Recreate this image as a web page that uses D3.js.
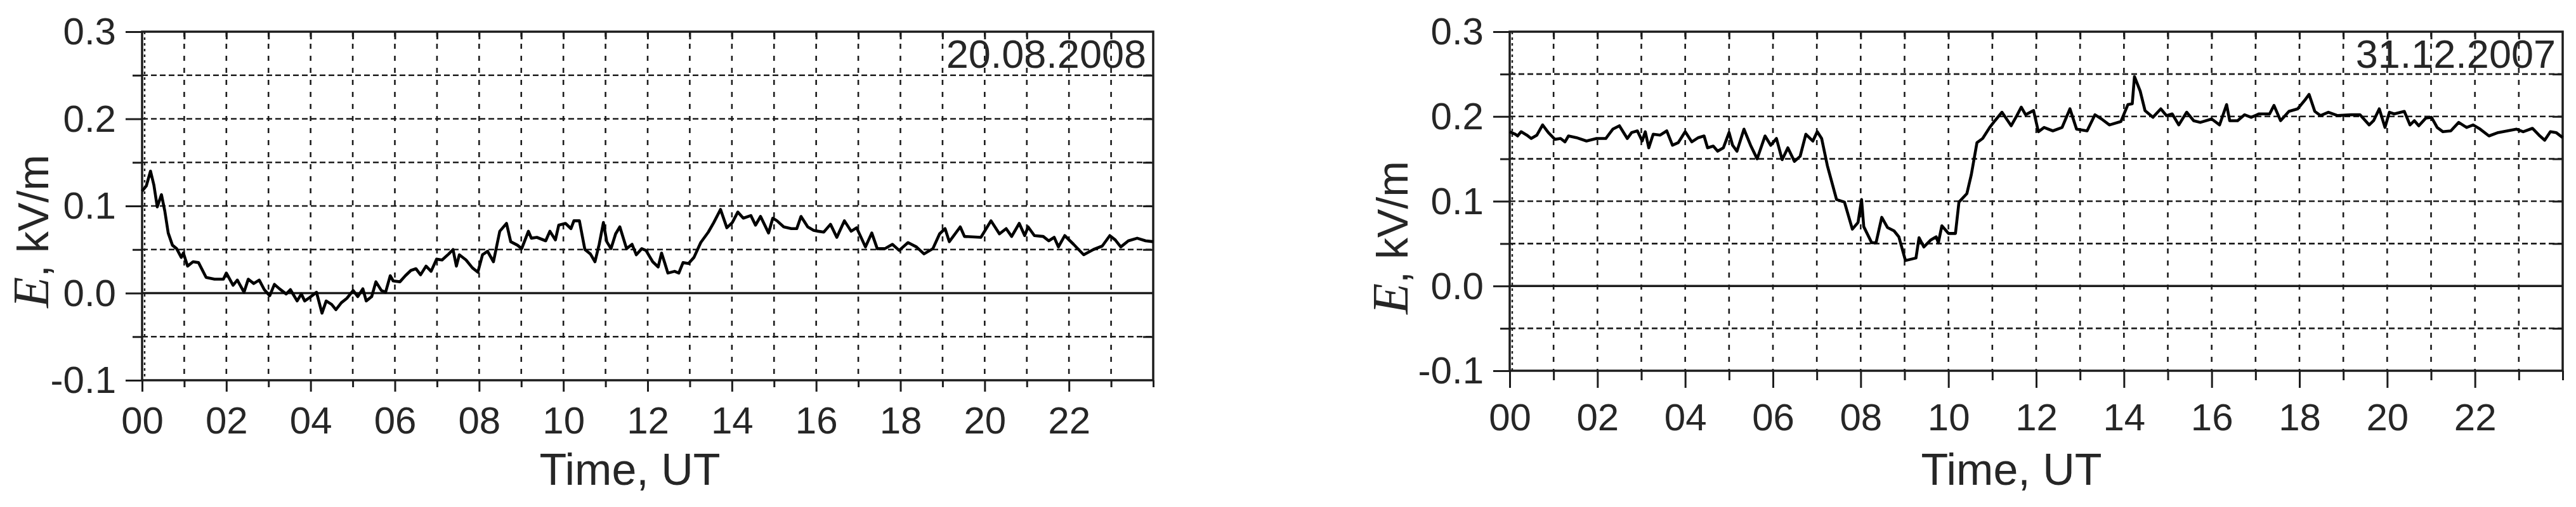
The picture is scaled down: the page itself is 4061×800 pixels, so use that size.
<!DOCTYPE html>
<html>
<head>
<meta charset="utf-8">
<script src="https://cdn.jsdelivr.net/npm/d3@7"></script>
<style>
  html, body { margin: 0; padding: 0; background: #fff; }
  svg { display: block; }
  text { font-family: "Liberation Sans", Arial, sans-serif; fill: #262626; }
</style>
</head>
<body>
<svg id="chart" width="4061" height="800"></svg>
<script>
// ---------- DATA ----------
const xTickLabels = ["00","02","04","06","08","10","12","14","16","18","20","22"];
const xMajorTicks = [0,2,4,6,8,10,12,14,16,18,20,22];
const xMinorTicks = [1,3,5,7,9,11,13,15,17,19,21,23,24];
const yTickValues = [-0.1, 0.0, 0.1, 0.2, 0.3];
const yTickLabels = ["-0.1","0.0","0.1","0.2","0.3"];
const yMinorTicks = [-0.05, 0.05, 0.15, 0.25];
const dateLabels = ["20.08.2008", "31.12.2007"];
const xAxisTitle = "Time, UT";
const yAxisSymbol = "E";
const yAxisUnit = ", kV/m";

// 20.08.2008 : time (UT hours) and E (kV/m)
const hoursA = [0,0.1,0.2,0.28,0.36,0.46,0.54,0.62,0.72,0.82,0.93,0.98,1.08,1.21,1.34,1.52,1.72,1.93,2.0,2.16,2.26,2.42,2.52,2.65,2.78,2.9,3.03,3.14,3.26,3.42,3.52,3.68,3.78,3.86,3.98,4.14,4.27,4.37,4.5,4.6,4.73,4.86,5.01,5.12,5.24,5.32,5.45,5.55,5.68,5.78,5.89,5.96,6.12,6.25,6.38,6.5,6.61,6.74,6.86,6.99,7.12,7.28,7.38,7.46,7.53,7.69,7.84,7.97,8.08,8.2,8.34,8.49,8.65,8.75,8.91,9.01,9.17,9.24,9.37,9.58,9.68,9.81,9.89,10.05,10.18,10.25,10.38,10.51,10.64,10.75,10.85,10.95,11.03,11.13,11.24,11.34,11.5,11.63,11.73,11.86,11.96,12.12,12.25,12.33,12.41,12.48,12.64,12.74,12.84,12.97,13.1,13.26,13.44,13.57,13.73,13.88,14.01,14.14,14.27,14.45,14.56,14.68,14.87,14.97,15.07,15.23,15.41,15.54,15.64,15.8,15.94,16.05,16.18,16.34,16.49,16.67,16.83,16.96,17.17,17.32,17.45,17.63,17.81,17.97,18.18,18.38,18.56,18.77,18.93,19.06,19.16,19.42,19.52,19.91,20.15,20.35,20.51,20.64,20.82,20.95,21.03,21.18,21.39,21.52,21.65,21.75,21.9,22.11,22.35,22.58,22.79,22.97,23.1,23.23,23.41,23.62,23.82,24.0];
const valuesA = [0.117,0.123,0.140,0.124,0.099,0.113,0.094,0.069,0.055,0.051,0.041,0.046,0.031,0.036,0.035,0.018,0.016,0.016,0.023,0.009,0.015,0.001,0.016,0.011,0.015,0.004,-0.003,0.010,0.005,-0.001,0.004,-0.009,-0.001,-0.009,-0.005,0.001,-0.023,-0.009,-0.013,-0.019,-0.011,-0.006,0.003,-0.004,0.005,-0.009,-0.004,0.013,0.003,0.001,0.020,0.014,0.013,0.020,0.026,0.028,0.021,0.031,0.025,0.039,0.038,0.045,0.050,0.031,0.044,0.038,0.029,0.024,0.044,0.048,0.036,0.071,0.080,0.059,0.055,0.051,0.071,0.063,0.064,0.060,0.071,0.061,0.078,0.080,0.074,0.083,0.083,0.050,0.045,0.036,0.056,0.081,0.059,0.051,0.068,0.076,0.051,0.056,0.044,0.051,0.049,0.036,0.030,0.046,0.034,0.023,0.025,0.023,0.035,0.034,0.041,0.058,0.070,0.081,0.096,0.075,0.081,0.093,0.086,0.089,0.078,0.088,0.069,0.086,0.083,0.076,0.074,0.074,0.088,0.076,0.072,0.071,0.070,0.079,0.064,0.083,0.071,0.075,0.053,0.069,0.051,0.051,0.056,0.049,0.058,0.053,0.045,0.051,0.068,0.074,0.059,0.076,0.065,0.064,0.083,0.068,0.074,0.065,0.080,0.066,0.076,0.066,0.065,0.060,0.064,0.053,0.066,0.056,0.044,0.050,0.054,0.066,0.061,0.053,0.060,0.063,0.060,0.059];

// 31.12.2007 : time (UT hours) and E (kV/m)
const hoursB = [0,0.13,0.18,0.26,0.39,0.49,0.62,0.75,0.88,1.03,1.16,1.26,1.34,1.52,1.75,1.98,2.19,2.35,2.5,2.68,2.78,2.91,3.02,3.09,3.17,3.27,3.43,3.58,3.71,3.84,4.0,4.15,4.3,4.43,4.51,4.64,4.74,4.87,5.0,5.08,5.18,5.34,5.49,5.64,5.82,5.95,6.08,6.21,6.34,6.49,6.62,6.75,6.91,7.01,7.11,7.24,7.45,7.63,7.81,7.94,8.02,8.07,8.25,8.35,8.48,8.61,8.76,8.87,9.02,9.26,9.33,9.44,9.59,9.72,9.77,9.85,10.0,10.16,10.24,10.42,10.52,10.65,10.78,10.94,11.06,11.22,11.43,11.56,11.66,11.76,11.94,12.05,12.18,12.38,12.59,12.77,12.92,13.16,13.34,13.49,13.67,13.93,14.09,14.19,14.24,14.37,14.48,14.66,14.84,14.97,15.1,15.25,15.43,15.59,15.74,16.0,16.18,16.34,16.41,16.59,16.75,16.9,17.08,17.32,17.42,17.57,17.76,17.96,18.12,18.22,18.35,18.48,18.66,18.87,19.18,19.38,19.59,19.69,19.82,19.95,20.05,20.16,20.39,20.52,20.62,20.72,20.88,21.01,21.14,21.27,21.45,21.63,21.81,21.96,22.12,22.32,22.53,22.74,22.95,23.1,23.31,23.46,23.59,23.72,23.85,24.0];
const valuesB = [0.182,0.179,0.177,0.182,0.178,0.174,0.178,0.190,0.181,0.173,0.174,0.170,0.177,0.175,0.171,0.174,0.174,0.185,0.189,0.174,0.181,0.183,0.171,0.182,0.163,0.179,0.178,0.183,0.166,0.169,0.182,0.170,0.175,0.177,0.163,0.165,0.159,0.163,0.181,0.166,0.159,0.185,0.166,0.150,0.177,0.166,0.174,0.149,0.163,0.147,0.153,0.179,0.171,0.182,0.174,0.142,0.102,0.099,0.067,0.075,0.102,0.070,0.051,0.051,0.081,0.069,0.065,0.058,0.030,0.033,0.057,0.046,0.054,0.058,0.051,0.071,0.062,0.062,0.099,0.109,0.131,0.169,0.174,0.187,0.195,0.205,0.189,0.201,0.211,0.202,0.207,0.182,0.187,0.183,0.187,0.209,0.185,0.183,0.202,0.197,0.190,0.194,0.214,0.215,0.247,0.230,0.207,0.199,0.209,0.201,0.203,0.190,0.205,0.195,0.193,0.197,0.190,0.214,0.195,0.195,0.202,0.199,0.203,0.203,0.213,0.195,0.206,0.209,0.219,0.226,0.206,0.201,0.205,0.201,0.202,0.202,0.190,0.195,0.209,0.187,0.205,0.203,0.206,0.190,0.195,0.189,0.198,0.199,0.187,0.182,0.183,0.193,0.187,0.190,0.185,0.177,0.181,0.183,0.185,0.182,0.186,0.178,0.172,0.182,0.181,0.175];

// ---------- LAYOUT ----------
const panels = [
  { hours: hoursA, values: valuesA, date: dateLabels[0],
    left: 224, right: 1818, top: 50, bottom: 600,
    majorTick: 18, minorTick: 11, xLabelBase: 84,
    yTitleX: 76, yTitleY: 365, xTitleX: 993, xTitleY: 765 },
  { hours: hoursB, values: valuesB, date: dateLabels[1],
    left: 2380, right: 4040, top: 50, bottom: 585,
    majorTick: 27, minorTick: 15, xLabelBase: 94,
    yTitleX: 2219, yTitleY: 375, xTitleX: 3171, xTitleY: 765 }
];

const ink = "#1c1c1c";
const svg = d3.select("#chart");
svg.append("rect").attr("width", 4061).attr("height", 800).attr("fill", "#fff");

panels.forEach(p => {
  const x = d3.scaleLinear().domain([0, 24]).range([p.left, p.right]);
  const y = d3.scaleLinear().domain([-0.1, 0.3]).range([p.bottom, p.top]);
  const g = svg.append("g");

  // grid: vertical dashed at every hour
  g.append("g").selectAll("line").data(d3.range(1, 24)).join("line")
    .attr("x1", d => x(d)).attr("x2", d => x(d))
    .attr("y1", p.top).attr("y2", p.bottom)
    .attr("stroke", ink).attr("stroke-width", 2.6)
    .attr("stroke-dasharray", "8,11");
  // dotted overlay on left edge
  g.append("line").attr("x1", x(0) + 4).attr("x2", x(0) + 4)
    .attr("y1", p.top).attr("y2", p.bottom)
    .attr("stroke", ink).attr("stroke-width", 2.4)
    .attr("stroke-dasharray", "4,5");

  // grid: horizontal dashed every 0.05
  g.append("g").selectAll("line").data([0.25, 0.2, 0.15, 0.1, 0.05, -0.05]).join("line")
    .attr("x1", p.left).attr("x2", p.right)
    .attr("y1", d => y(d)).attr("y2", d => y(d))
    .attr("stroke", ink).attr("stroke-width", 2.6)
    .attr("stroke-dasharray", "9,5");

  // zero line
  g.append("line").attr("x1", p.left).attr("x2", p.right)
    .attr("y1", y(0)).attr("y2", y(0))
    .attr("stroke", ink).attr("stroke-width", 3.5);

  // frame
  g.append("rect").attr("x", p.left).attr("y", p.top)
    .attr("width", p.right - p.left).attr("height", p.bottom - p.top)
    .attr("fill", "none").attr("stroke", ink).attr("stroke-width", 3.5);

  const styleAxis = sel => {
    sel.select(".domain").remove();
    sel.selectAll(".tick line").attr("stroke", ink).attr("stroke-width", 3);
  };

  // bottom axis: minor ticks
  g.append("g").attr("transform", `translate(0,${p.bottom})`)
    .call(d3.axisBottom(x).tickValues(xMinorTicks).tickSize(p.minorTick).tickFormat(""))
    .call(styleAxis);
  // bottom axis: major ticks + labels
  const xa = g.append("g").attr("transform", `translate(0,${p.bottom})`)
    .call(d3.axisBottom(x).tickValues(xMajorTicks).tickSize(p.majorTick)
      .tickFormat((d, i) => xTickLabels[i]))
    .call(styleAxis);
  xa.selectAll(".tick text")
    .attr("y", p.xLabelBase).attr("dy", 0)
    .attr("font-size", 60).attr("fill", "#262626")
    .attr("font-family", "Liberation Sans, Arial, sans-serif");

  // top inward ticks
  g.append("g").attr("transform", `translate(0,${p.top})`)
    .call(d3.axisTop(x).tickValues(d3.range(1, 24)).tickSize(-12).tickFormat(""))
    .call(styleAxis);

  // left axis: minor ticks
  g.append("g").attr("transform", `translate(${p.left},0)`)
    .call(d3.axisLeft(y).tickValues(yMinorTicks).tickSize(15).tickFormat(""))
    .call(styleAxis);
  // left axis: major ticks + labels
  const ya = g.append("g").attr("transform", `translate(${p.left},0)`)
    .call(d3.axisLeft(y).tickValues(yTickValues).tickSize(26).tickPadding(15)
      .tickFormat((d, i) => yTickLabels[i]))
    .call(styleAxis);
  ya.selectAll(".tick text")
    .attr("font-size", 60).attr("fill", "#262626").attr("dy", "0.33em")
    .attr("font-family", "Liberation Sans, Arial, sans-serif");

  // right inward ticks
  g.append("g").attr("transform", `translate(${p.right},0)`)
    .call(d3.axisRight(y).tickValues([0.25, 0.2, 0.15, 0.1, 0.05, -0.05]).tickSize(-16).tickFormat(""))
    .call(styleAxis);

  // data line
  const pts = p.hours.map((h, i) => [h, p.values[i]]);
  g.append("path").datum(pts)
    .attr("d", d3.line().x(d => x(d[0])).y(d => y(d[1])))
    .attr("fill", "none").attr("stroke", "#000")
    .attr("stroke-width", 4.6).attr("stroke-linejoin", "round");

  // date label
  g.append("text").attr("x", p.right - 11).attr("y", 107)
    .attr("text-anchor", "end").attr("font-size", 63)
    .text(p.date);

  // x axis title
  svg.append("text").attr("x", p.xTitleX).attr("y", p.xTitleY)
    .attr("text-anchor", "middle").attr("font-size", 70)
    .text(xAxisTitle);

  // y axis title
  const yt = svg.append("text")
    .attr("transform", `translate(${p.yTitleX},${p.yTitleY}) rotate(-90)`)
    .attr("text-anchor", "middle").attr("font-size", 68);
  yt.append("tspan").attr("font-family", "Liberation Serif, Times New Roman, serif")
    .attr("font-style", "italic").attr("font-size", 80).text(yAxisSymbol);
  yt.append("tspan").text(yAxisUnit);
});
</script>
</body>
</html>
